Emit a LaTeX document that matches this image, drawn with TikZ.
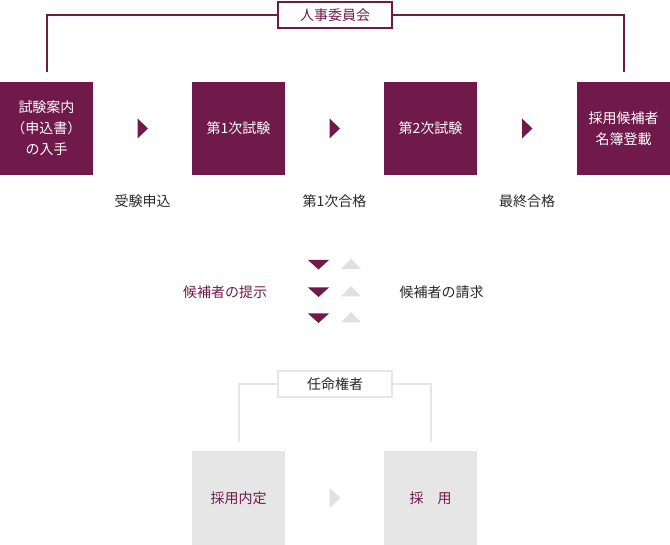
\documentclass[tikz,border=0pt]{standalone}
\usepackage{fontspec}
\setmainfont{Noto Sans CJK JP}
\usetikzlibrary{calc,positioning}
\definecolor{jinjipurple}{RGB}{112,26,76}
\definecolor{ninmeigray}{RGB}{230,230,230}
\definecolor{arrowgray}{RGB}{224,224,224}
\definecolor{textdark}{RGB}{40,40,40}
\newcommand{\stagefont}{\fontsize{14}{21}\selectfont}

\begin{document}
\begin{tikzpicture}[x=1pt,y=-1pt,
    stagebox/.style={fill=jinjipurple,text=white,minimum width=93pt,minimum height=93pt,
                     inner sep=0pt,align=center,font=\stagefont},
    ninmebox/.style={fill=ninmeigray,text=jinjipurple,minimum width=93pt,minimum height=94pt,
                     inner sep=0pt,align=center,font=\stagefont},
    headbox/.style={draw=#1,line width=2pt,fill=white,minimum width=114pt,minimum height=26pt,
                    inner sep=0pt,text=textdark,font=\stagefont},
    headline/.style={draw=#1,line width=2pt},
    steplabel/.style={text=textdark,font=\stagefont,inner sep=0pt}]

  \useasboundingbox (0,0) rectangle (670,545);

  %-------------------- 人事委員会 --------------------
  \node[stagebox] (annai)   at (46.5,128.5)  {試験案内\\（申込書）\\の入手};
  \node[stagebox] (shiken1) at (238.5,128.5) {第1次試験};
  \node[stagebox] (shiken2) at (430.5,128.5) {第2次試験};
  \node[stagebox] (meibo)   at (623.5,128.5) {採用候補者\\名簿登載};

  \node[headbox=jinjipurple,text=jinjipurple] (jinji) at (335,15) {人事委員会};
  \draw[headline=jinjipurple,shorten >=10pt] (jinji.west) -| (annai.north);
  \draw[headline=jinjipurple,shorten >=10pt] (jinji.east) -| (meibo.north);

  % 矢印
  \foreach \a/\b in {annai/shiken1,shiken1/shiken2,shiken2/meibo}{
    \fill[jinjipurple] ($(\a.east)!0.5!(\b.west)$) ++(-5,-10) -- ++(10.5,10) -- ++(-10.5,10) -- cycle;
  }

  \node[steplabel] (moushikomi) at (142.5,201) {受験申込};
  \node[steplabel] (goukaku1)   at (334.5,201) {第1次合格};
  \node[steplabel] (goukaku2)   at (527,201)   {最終合格};

  %-------------------- 提示と請求 --------------------
  \node[steplabel,text=jinjipurple] (teiji) at (225,292) {候補者の提示};
  \node[steplabel] (seikyu) at (441.5,292) {候補者の請求};

  \foreach \y in {264.5,292,318}{
    \fill[jinjipurple] (318.5,\y) ++(-10.5,-4.5) -- ++(21,0) -- ++(-10.5,9.5) -- cycle;
    \fill[arrowgray]   (351,\y) ++(-10,4.5) -- ++(20,0) -- ++(-10,-10.5) -- cycle;
  }

  %-------------------- 任命権者 --------------------
  \node[ninmebox] (naitei) at (238.5,498) {採用内定};
  \node[ninmebox] (saiyo)  at (430.5,498) {採　用};

  \node[headbox=ninmeigray] (ninmei) at (335,384) {任命権者};
  \draw[headline=ninmeigray,shorten >=9pt] (ninmei.west) -| (naitei.north);
  \draw[headline=ninmeigray,shorten >=9pt] (ninmei.east) -| (saiyo.north);

  \fill[arrowgray] ($(naitei.east)!0.5!(saiyo.west)$) ++(-5,-10) -- ++(11,10) -- ++(-11,10) -- cycle;

\end{tikzpicture}
\end{document}
